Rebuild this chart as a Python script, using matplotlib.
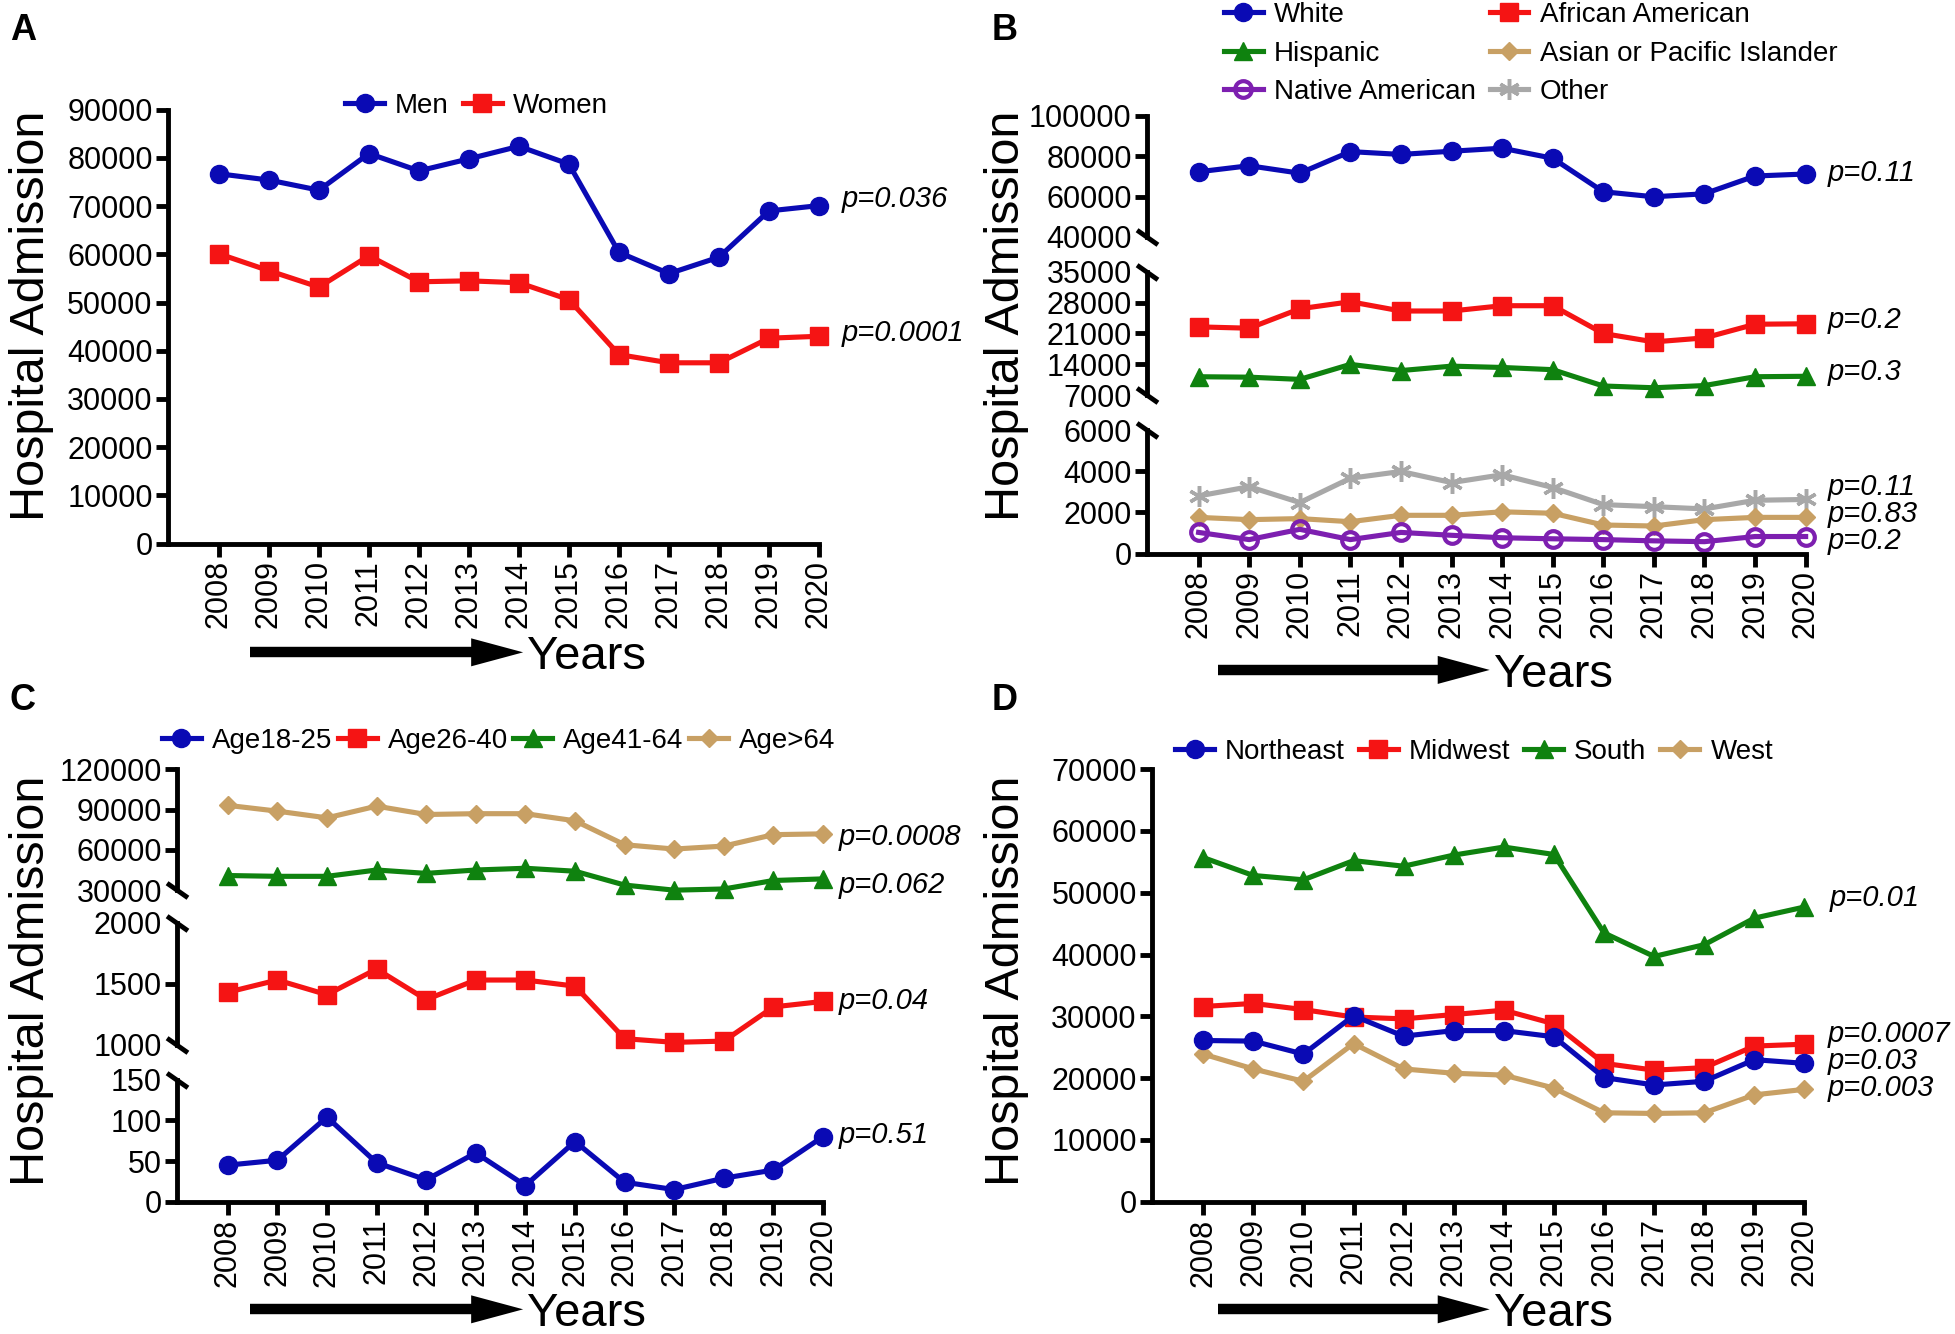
import numpy as np
import matplotlib.pyplot as plt
from matplotlib.lines import Line2D
from matplotlib.patches import Polygon

plt.rcParams['font.family'] = ['Liberation Sans', 'DejaVu Sans']

years = np.arange(2008, 2021)
year_labels = [str(y) for y in years]

# A - sex
men = [76700, 75400, 73300, 80900, 77300, 79800, 82400, 78700, 60400, 56000, 59400, 69000, 70100]
women = [60100, 56600, 53200, 59700, 54300, 54500, 54100, 50600, 39200, 37500, 37500, 42600, 43000]

# B - race
white = [72300, 75300, 71600, 82300, 80900, 82500, 84000, 79000, 62400, 59900, 61400, 70200, 71200]
african = [22500, 22200, 26600, 28200, 26100, 26100, 27300, 27300, 21000, 19100, 20000, 23100, 23200]
hispanic = [11200, 11100, 10600, 14000, 12600, 13600, 13300, 12800, 9100, 8700, 9200, 11200, 11300]
other = [2800, 3250, 2480, 3660, 3990, 3450, 3830, 3210, 2380, 2280, 2170, 2590, 2630]
asian = [1760, 1650, 1700, 1550, 1860, 1860, 2030, 1960, 1390, 1340, 1650, 1760, 1760]
native = [1030, 680, 1180, 680, 1030, 890, 770, 720, 680, 620, 580, 830, 830]

# C - age groups
age18 = [45, 51, 104, 48, 27, 60, 20, 74, 24, 15, 29, 39, 80]
age26 = [1430, 1530, 1410, 1620, 1370, 1530, 1530, 1480, 1050, 1020, 1030, 1310, 1355]
age41 = [40900, 40300, 40300, 45000, 42500, 45000, 46300, 44100, 33800, 30000, 30900, 37200, 38400]
age64 = [93100, 88800, 83800, 92500, 86300, 86900, 86900, 81600, 63800, 60600, 62800, 71300, 71900]

# D - regions
northeast = [26100, 26000, 23900, 30100, 26800, 27700, 27700, 26700, 20100, 18900, 19500, 23000, 22400]
midwest = [31600, 32100, 31100, 29900, 29600, 30300, 31000, 28800, 22400, 21300, 21700, 25200, 25500]
south = [55700, 52800, 52100, 55200, 54300, 56100, 57400, 56200, 43500, 39700, 41600, 45900, 47700]
west = [23900, 21500, 19500, 25600, 21500, 20800, 20500, 18400, 14400, 14300, 14400, 17300, 18200]

BLUE = '#0a0ab4'
RED = '#f51414'
GREEN = '#0f820f'
TAN = '#c8a064'
PURPLE = '#7d1fb0'
GREY = '#a8a8a8'

W, H = 1955, 1334
fig = plt.figure(figsize=(W / 100, H / 100), dpi=100)
LW = 3.5


def make_ax(x0, x2020, y0, y1, yticks, bottom=True, lo_break=False, hi_break=False):
    ax = fig.add_axes([x0, y0, x2020 - x0, y1 - y0])
    ax.patch.set_alpha(0)
    for s in ['top', 'right']:
        ax.spines[s].set_visible(False)
    ax.spines['left'].set_linewidth(LW)
    ax.spines['bottom'].set_linewidth(LW)
    ax.set_xlim(2006.98, 2020)
    ax.set_ylim(yticks[0], yticks[-1])
    ax.set_yticks(yticks)
    ax.set_yticklabels([str(t) for t in yticks])
    ax.tick_params(axis='y', width=LW, length=9, labelsize=22, pad=2)
    if bottom:
        ax.set_xticks(years)
        ax.set_xticklabels(year_labels, rotation=90)
        ax.tick_params(axis='x', width=LW, length=9, labelsize=22, pad=3)
    else:
        ax.spines['bottom'].set_visible(False)
        ax.set_xticks([])
    ticks = ax.yaxis.get_major_ticks()
    if lo_break:
        ticks[0].tick1line.set_visible(False)
        ax.plot([0], [0], transform=ax.transAxes, marker=[(-1, 0.7), (1, -0.7)],
                markersize=15, mew=LW, color='k', clip_on=False)
    if hi_break:
        ticks[-1].tick1line.set_visible(False)
        ax.plot([0], [1], transform=ax.transAxes, marker=[(-1, 0.7), (1, -0.7)],
                markersize=15, mew=LW, color='k', clip_on=False)
    return ax


def series(ax, vals, color, marker, ms, label, **kw):
    ln, = ax.plot(years, vals, color=color, lw=3.7, marker=marker, markersize=ms,
                  clip_on=False, label=label, **kw)
    return ln


def years_arrow(x0, x1, y):
    fig.add_artist(Line2D([x0, x1 - 48 / W], [y, y], transform=fig.transFigure,
                          lw=7.5, color='k', solid_capstyle='butt'))
    fig.add_artist(Polygon([[x1 - 52 / W, y + 14 / H], [x1, y], [x1 - 52 / W, y - 14 / H]],
                           closed=True, transform=fig.transFigure, color='k', lw=0))
    fig.text(x1 + 4 / W, y - 17 / H, 'Years', fontsize=34, ha='left', va='baseline')


def ylabel(x, y):
    fig.text(x, y, 'Hospital Admission', fontsize=35, rotation=90, ha='center', va='center')


leg_kw = dict(frameon=False, fontsize=20, handlelength=1.4, handletextpad=0.4,
              borderaxespad=0, borderpad=0, numpoints=1)

# ---------------- A ----------------
axA = make_ax(0.0859, 0.4189, 0.5925, 0.9178, [0, 10000, 20000, 30000, 40000, 50000, 60000, 70000, 80000, 90000])
hA = [series(axA, men, BLUE, 'o', 13, 'Men'),
      series(axA, women, RED, 's', 13, 'Women')]
fig.legend(handles=hA, loc='center', bbox_to_anchor=(0.2437, 0.9206), ncol=2, columnspacing=0.5, **leg_kw)
fig.text(0.4305, 0.8505, 'p=0.036', fontsize=21, style='italic', va='center')
fig.text(0.4305, 0.7505, 'p=0.0001', fontsize=21, style='italic', va='center')
ylabel(0.016, 0.763)
years_arrow(0.1279, 0.2676, 0.5110)
fig.text(0.005, 0.99, 'A', fontsize=26, weight='bold', va='top')

# ---------------- B ----------------
xb0, xb1 = 0.5867, 0.9236
axB1 = make_ax(xb0, xb1, 0.585, 0.6776, [0, 2000, 4000, 6000], hi_break=True)
axB2 = make_ax(xb0, xb1, 0.7037, 0.7963, [7000, 14000, 21000, 28000, 35000], bottom=False,
               lo_break=True, hi_break=True)
axB3 = make_ax(xb0, xb1, 0.8224, 0.9131, [40000, 60000, 80000, 100000], bottom=False, lo_break=True)
l_white = series(axB3, white, BLUE, 'o', 13, 'White')
l_hisp = series(axB2, hispanic, GREEN, '^', 13, 'Hispanic')
l_afr = series(axB2, african, RED, 's', 13, 'African American')
l_other = series(axB1, other, GREY, (6, 2, 0), 15, 'Other', mew=2.5)
l_asian = series(axB1, asian, TAN, 'D', 9, 'Asian or Pacific Islander')
l_native = series(axB1, native, PURPLE, 'o', 12, 'Native American', mfc='none', mew=3)
fig.legend(handles=[l_white, l_hisp, l_native, l_afr, l_asian, l_other], loc='upper left',
           bbox_to_anchor=(0.626, 0.9985), ncol=2, labelspacing=0.45, columnspacing=0.5, **leg_kw)
for txt, yy in [('p=0.11', 0.870), ('p=0.2', 0.7598), ('p=0.3', 0.7215),
                ('p=0.11', 0.6346), ('p=0.83', 0.6150), ('p=0.2', 0.5944)]:
    fig.text(0.935, yy, txt, fontsize=21, style='italic', va='center')
ylabel(0.515, 0.763)
years_arrow(0.6231, 0.762, 0.4978)
fig.text(0.507, 0.99, 'B', fontsize=26, weight='bold', va='top')

# ---------------- C ----------------
xc0, xc1 = 0.0906, 0.421
axC1 = make_ax(xc0, xc1, 0.0991, 0.1907, [0, 50, 100, 150], hi_break=True)
axC2 = make_ax(xc0, xc1, 0.2168, 0.3084, [1000, 1500, 2000], bottom=False, lo_break=True, hi_break=True)
axC3 = make_ax(xc0, xc1, 0.3327, 0.4234, [30000, 60000, 90000, 120000], bottom=False, lo_break=True)
l18 = series(axC1, age18, BLUE, 'o', 13, 'Age18-25')
l26 = series(axC2, age26, RED, 's', 13, 'Age26-40')
l41 = series(axC3, age41, GREEN, '^', 13, 'Age41-64')
l64 = series(axC3, age64, TAN, 'D', 9, 'Age>64')
fig.legend(handles=[l18, l26, l41, l64], loc='center', bbox_to_anchor=(0.2551, 0.4449), ncol=4,
           columnspacing=0.2, **leg_kw)
for txt, yy in [('p=0.0008', 0.3729), ('p=0.062', 0.3364), ('p=0.04', 0.2495), ('p=0.51', 0.1495)]:
    fig.text(0.4292, yy, txt, fontsize=21, style='italic', va='center')
ylabel(0.016, 0.2645)
years_arrow(0.1279, 0.2676, 0.0185)
fig.text(0.005, 0.488, 'C', fontsize=26, weight='bold', va='top')

# ---------------- D ----------------
axD = make_ax(0.5893, 0.9230, 0.0991, 0.4234, [0, 10000, 20000, 30000, 40000, 50000, 60000, 70000])
l_w = series(axD, west, TAN, 'D', 9, 'West')
l_s = series(axD, south, GREEN, '^', 13, 'South')
l_m = series(axD, midwest, RED, 's', 13, 'Midwest')
l_n = series(axD, northeast, BLUE, 'o', 13, 'Northeast')
fig.legend(handles=[l_n, l_m, l_s, l_w], loc='center', bbox_to_anchor=(0.754, 0.4364), ncol=4,
           columnspacing=0.5, **leg_kw)
fig.text(0.936, 0.3271, 'p=0.01', fontsize=21, style='italic', va='center')
for txt, yy in [('p=0.0007', 0.2252), ('p=0.03', 0.2047), ('p=0.003', 0.1841)]:
    fig.text(0.935, yy, txt, fontsize=21, style='italic', va='center')
ylabel(0.515, 0.2645)
years_arrow(0.6231, 0.762, 0.0185)
fig.text(0.507, 0.488, 'D', fontsize=26, weight='bold', va='top')

fig.savefig('out.png', dpi=100)
plt.close('all')
